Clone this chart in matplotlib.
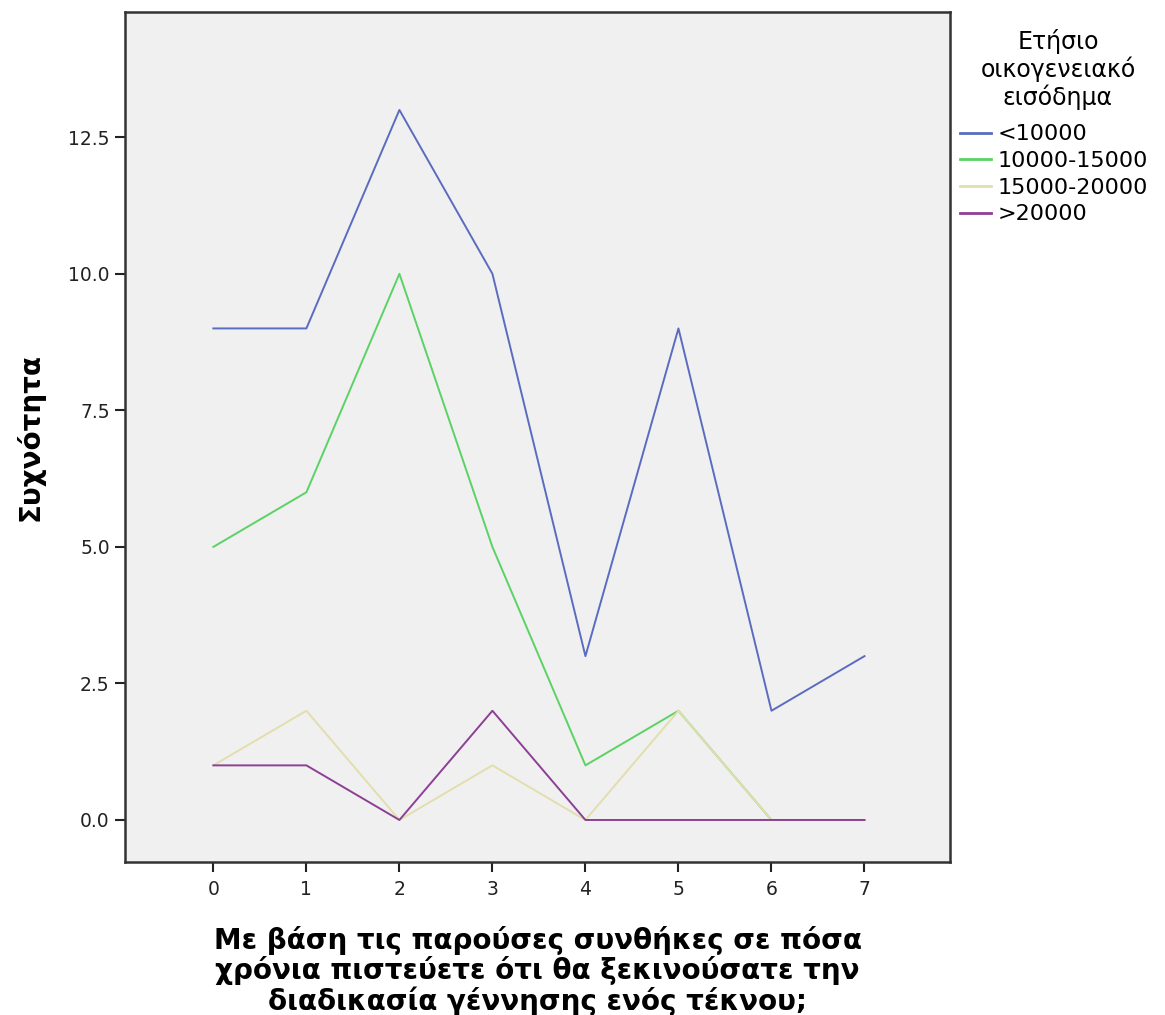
import matplotlib
matplotlib.use('Agg')
import matplotlib.pyplot as plt

# values
years = [0, 1, 2, 3, 4, 5, 6, 7]
under_10000 = [9, 9, 13, 10, 3, 9, 2, 3]
from_10000_15000 = [5, 6, 10, 5, 1, 2, 0, 0]
from_15000_20000 = [1, 2, 0, 1, 0, 2, 0, 0]
over_20000 = [1, 1, 0, 2, 0, 0, 0, 0]

series_labels = ['<10000', '10000-15000', '15000-20000', '>20000']
series_colors = ['#5a6cc0', '#5bd264', '#e2deae', '#8d3f95']
y_ticks = [0.0, 2.5, 5.0, 7.5, 10.0, 12.5]

fig = plt.figure(figsize=(11.65, 10.15), dpi=100)
ax = fig.add_axes([0.1073, 0.1507, 0.7082, 0.8373])
ax.set_facecolor('#f0f0f0')

for vals, lab, col in zip([under_10000, from_10000_15000, from_15000_20000, over_20000],
                          series_labels, series_colors):
    ax.plot(years, vals, color=col, linewidth=1.4, label=lab)

ax.set_xlim(-0.95, 7.92)
ax.set_ylim(-0.77, 14.79)
ax.set_xticks(years)
ax.set_yticks(y_ticks)
ax.set_yticklabels([f'{t:.1f}' for t in y_ticks])
ax.tick_params(axis='both', direction='out', length=7, width=1.5, labelsize=13.5, colors='#222222')
ax.tick_params(axis='x', pad=6)
ax.tick_params(axis='y', pad=4)

for side in ['left', 'bottom', 'right', 'top']:
    ax.spines[side].set_linewidth(1.8)
    ax.spines[side].set_color('#333333')

ax.set_ylabel('Συχνότητα', fontsize=20, fontweight='bold')
ax.yaxis.set_label_coords(-0.097, 0.5)
ax.set_xlabel('Με βάση τις παρούσες συνθήκες σε πόσα\nχρόνια πιστεύετε ότι θα ξεκινούσατε την\nδιαδικασία γέννησης ενός τέκνου;',
              fontsize=20, fontweight='bold', linespacing=1.05)
ax.xaxis.set_label_coords(0.5, -0.075)

# legend title drawn on its own so its gap to the entries can match
fig.text(1058 / 1165, 1 - 29 / 1015, 'Ετήσιο\nοικογενειακό\nεισόδημα', ha='center', va='top',
         fontsize=17, linespacing=1.13, multialignment='center')
leg = ax.legend(loc='upper left', bbox_to_anchor=(1.012, 0.868), frameon=False, fontsize=16,
                handlelength=1.4, handletextpad=0.3, labelspacing=0.3,
                borderaxespad=0, borderpad=0)
for line in leg.get_lines():
    line.set_linewidth(2)

fig.savefig('out.png', dpi=100)
